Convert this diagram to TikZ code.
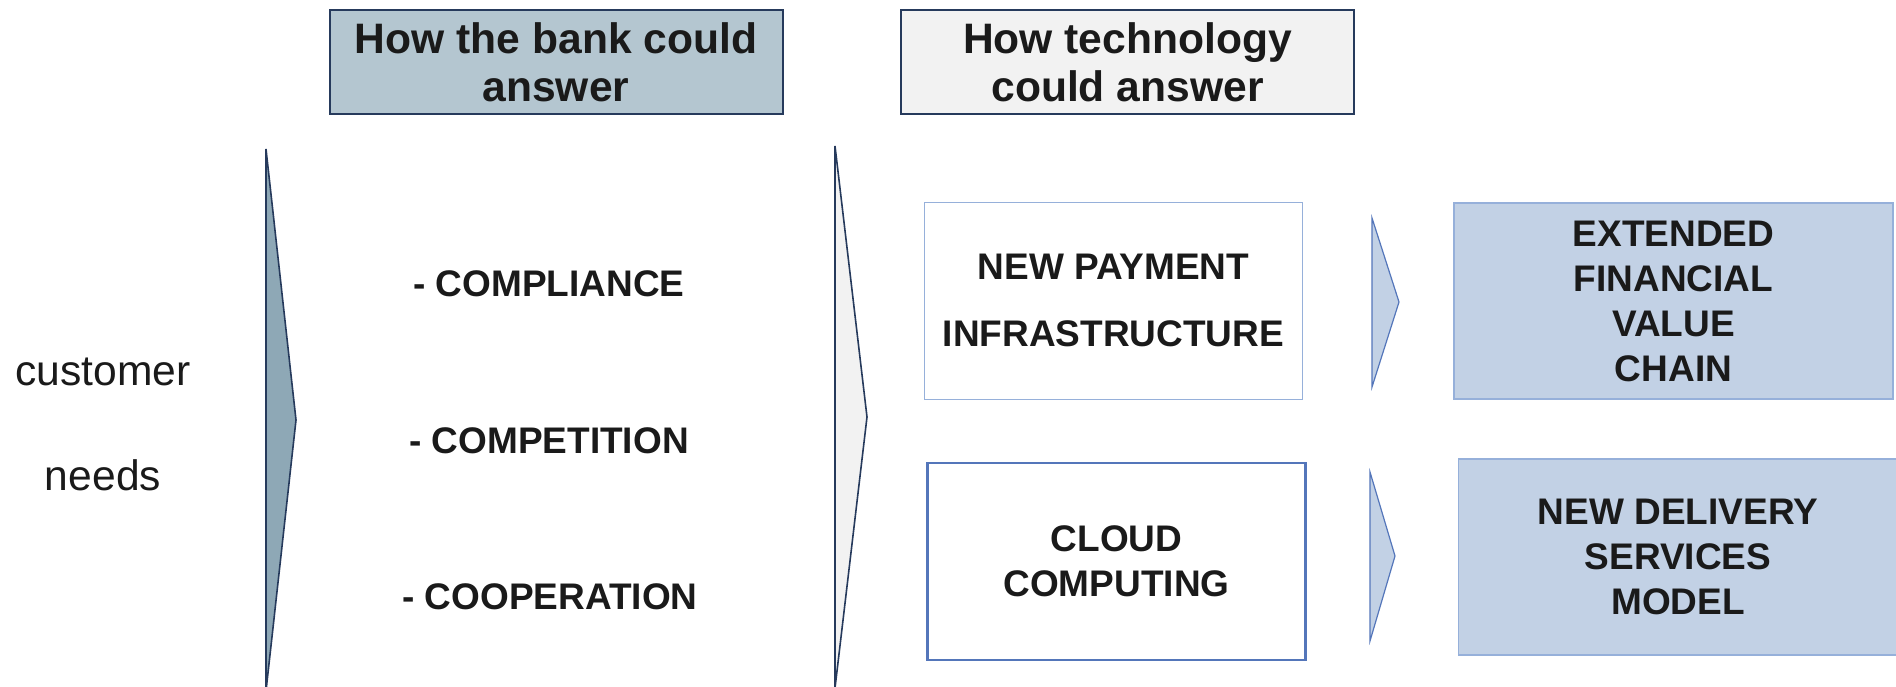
\documentclass[tikz,border=0pt]{standalone}
\usepackage{fontspec}
\setmainfont{Liberation Sans}
\definecolor{navy}{RGB}{38,58,92}
\definecolor{bankfill}{RGB}{180,198,208}
\definecolor{chevfill}{RGB}{142,168,182}
\definecolor{techfill}{RGB}{242,242,242}
\definecolor{paleblue}{RGB}{194,209,229}
\definecolor{lineblue}{RGB}{84,118,186}
\definecolor{thinblue}{RGB}{150,176,218}
\definecolor{inkblack}{RGB}{26,26,26}
\tikzset{
  headbox/.style={draw=navy, line width=2pt, minimum width=453pt, minimum height=104pt,
    inner sep=0pt, align=center, font=\fontsize{42.6}{48}\selectfont\bfseries, text=inkblack},
  techbox/.style={draw, minimum width=378pt, minimum height=197pt, inner sep=0pt,
    align=center, font=\fontsize{37}{45}\selectfont\bfseries, text=inkblack},
  resultbox/.style={techbox, fill=paleblue, draw=thinblue, line width=1.2pt,
    minimum width=439pt, minimum height=196pt},
  answer/.style={font=\fontsize{37}{45}\selectfont\bfseries, text=inkblack},
  needtext/.style={font=\fontsize{42.6}{48}\selectfont, text=inkblack},
  bigchevron/.style={draw=navy, line width=1.6pt, line join=miter},
  smallchevron/.style={draw=lineblue, fill=paleblue, line width=1.2pt}
}
\begin{document}
\begin{tikzpicture}[x=1pt,y=-1pt]
   \useasboundingbox (0,0) rectangle (1896,686);
   % big chevrons
   \draw[bigchevron, fill=chevfill] (266,149) -- (296,420) -- (266,691) -- cycle;
   \draw[bigchevron, fill=techfill] (835,146) -- (867,417) -- (835,688) -- cycle;
   % small chevrons
   \draw[smallchevron] (1372,218) -- (1399,302) -- (1372,387) -- cycle;
   \draw[smallchevron] (1370,472) -- (1395,556) -- (1370,641) -- cycle;
   % headers
   \node[headbox, fill=bankfill] (bank) at (556,62) {How the bank could\\answer};
   \node[headbox, fill=techfill] (tech) at (1127.5,62) {How technology\\could answer};
   % customer needs
   \node[needtext] (customer) at (103,372) {customer};
   \node[needtext] (needs) at (103,475) {needs};
   % answers of the bank
   \node[answer] (compliance) at (549,284) {- COMPLIANCE};
   \node[answer] (competition) at (549,441) {- COMPETITION};
   \node[answer] (cooperation) at (550,597) {- COOPERATION};
   % technology
   \node[techbox, draw=thinblue, line width=0.8pt, font=\fontsize{37}{67}\selectfont\bfseries]
      (payment) at (1113.5,300.5) {NEW PAYMENT\\INFRASTRUCTURE};
   \node[techbox, draw=lineblue, line width=2.2pt] (cloud) at (1116.5,561.5) {CLOUD\\COMPUTING};
   % results
   \node[resultbox] (extended) at (1673.5,301) {EXTENDED\\FINANCIAL\\VALUE\\CHAIN};
   \node[resultbox] (delivery) at (1678,557) {NEW DELIVERY\\SERVICES\\MODEL};
\end{tikzpicture}
\end{document}
